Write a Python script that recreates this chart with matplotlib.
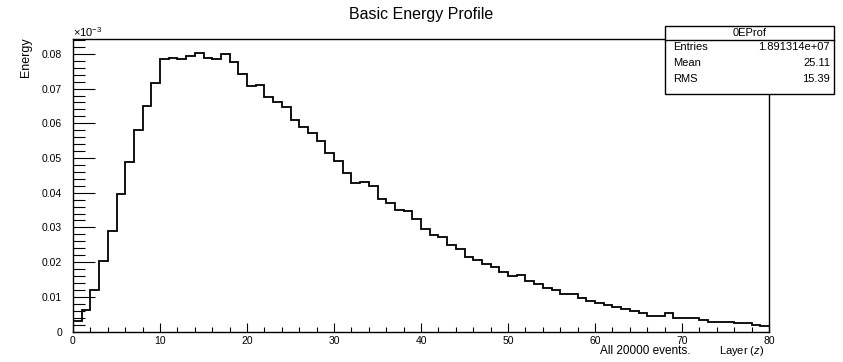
import numpy as np
import matplotlib
matplotlib.use('Agg')
from matplotlib import pyplot as plt
from matplotlib.patches import Rectangle
from matplotlib.ticker import MultipleLocator

plt.rcParams['font.family'] = ['Liberation Sans', 'DejaVu Sans']
plt.rcParams['mathtext.fontset'] = 'custom'
plt.rcParams['mathtext.rm'] = 'Liberation Sans'
plt.rcParams['mathtext.it'] = 'Liberation Sans:italic'

# energy per layer (bins 0..79)
energy = [0.0030, 0.0062, 0.0120, 0.0203, 0.0290, 0.0396, 0.0488, 0.0580, 0.0650, 0.0715,
          0.0784, 0.0789, 0.0784, 0.0795, 0.0803, 0.0789, 0.0784, 0.0799, 0.0776, 0.0742,
          0.0707, 0.0711, 0.0675, 0.0661, 0.0646, 0.0610, 0.0588, 0.0571, 0.0548, 0.0514,
          0.0490, 0.0458, 0.0427, 0.0431, 0.0419, 0.0381, 0.0369, 0.0350, 0.0346, 0.0323,
          0.0296, 0.0279, 0.0273, 0.0248, 0.0237, 0.0215, 0.0207, 0.0195, 0.0185, 0.0172,
          0.0160, 0.0164, 0.0146, 0.0137, 0.0124, 0.0120, 0.0107, 0.0107, 0.0096, 0.0089,
          0.0081, 0.0076, 0.0071, 0.0066, 0.0059, 0.0054, 0.0046, 0.0046, 0.0054, 0.0039,
          0.0039, 0.0039, 0.0033, 0.0028, 0.0028, 0.0028, 0.0024, 0.0024, 0.0019, 0.0016]
layer_edges = np.arange(0, 81)

stat_names = ['Entries', 'Mean', 'RMS']
stat_values = ['1.891314e+07', '25.11', '15.39']

W, H = 843, 362
fig = plt.figure(figsize=(W / 100, H / 100), dpi=100)
ax = fig.add_axes([73 / W, 1 - 331.5 / H, (769 - 73) / W, (331.5 - 39.3) / H])

ax.stairs(energy, layer_edges, color='black', lw=1.3, baseline=None)

ax.set_xlim(0, 80)
ax.set_ylim(0, 0.0842)
ax.xaxis.set_major_locator(MultipleLocator(10))
ax.xaxis.set_minor_locator(MultipleLocator(2))
ax.yaxis.set_major_locator(MultipleLocator(0.01))
ax.yaxis.set_minor_locator(MultipleLocator(0.002))
ax.yaxis.set_major_formatter(lambda v, p: '0' if abs(v) < 1e-9 else '%.2f' % v)

ax.tick_params(axis='x', which='major', direction='in', length=6.5, width=0.8, labelsize=7.5, pad=3)
ax.tick_params(axis='x', which='minor', direction='in', length=3.6, width=0.8)
ax.tick_params(axis='y', which='major', direction='in', length=15.8, width=0.8, labelsize=7.5, pad=8)
ax.tick_params(axis='y', which='minor', direction='in', length=8.4, width=0.8)
for s in ax.spines.values():
    s.set_linewidth(1.0)

fig.text(73 / W, 1 - 32 / H, r'$\times10^{-3}$', fontsize=8, ha='left', va='center')
fig.text(421 / W, 1 - 15 / H, 'Basic Energy Profile', fontsize=11.5, ha='center', va='center')
fig.text(26 / W, 1 - 37 / H, 'Energy', fontsize=9, rotation=90, ha='center', va='top')
fig.text(764 / W, 1 - 351 / H, r'Layer ($z$)', fontsize=8, ha='right', va='center')
fig.text(600 / W, 1 - 351 / H, 'All 20000 events.', fontsize=8.5, ha='left', va='center')

# stats box
bx0, bx1, by0, by1, bsep = 665, 834, 26, 94, 40
fig.add_artist(Rectangle((bx0 / W, 1 - by1 / H), (bx1 - bx0) / W, (by1 - by0) / H,
                         transform=fig.transFigure, facecolor='white', edgecolor='black', lw=1.0, zorder=5))
fig.add_artist(plt.Line2D([bx0 / W, bx1 / W], [1 - bsep / H, 1 - bsep / H],
                          transform=fig.transFigure, color='black', lw=1.0, zorder=6))
fig.text((bx0 + bx1) / 2 / W, 1 - 33 / H, '0EProf', fontsize=8, ha='center', va='center', zorder=7)
for i, (n, v) in enumerate(zip(stat_names, stat_values)):
    yy = 1 - (46.5 + 16.5 * i) / H
    fig.text(673 / W, yy, n, fontsize=8, ha='left', va='center', zorder=7)
    fig.text(830 / W, yy, v, fontsize=8, ha='right', va='center', zorder=7)

fig.savefig('out.png', dpi=100)
